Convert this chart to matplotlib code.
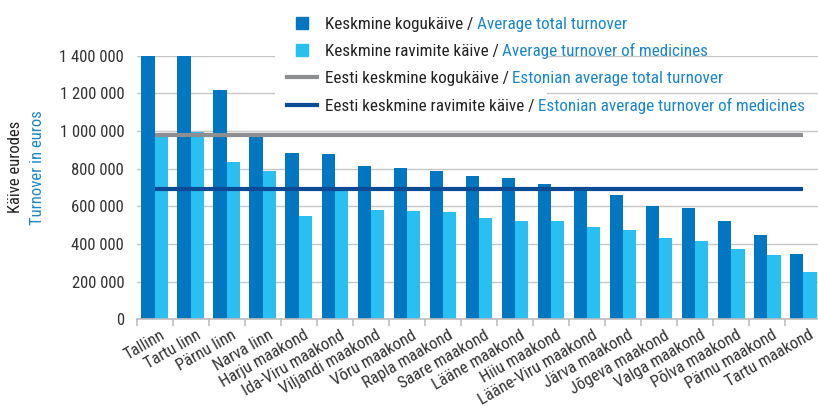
import numpy as np
import matplotlib
matplotlib.use('Agg')
import matplotlib.pyplot as plt
import matplotlib.transforms as mtransforms
from matplotlib import font_manager
from matplotlib.lines import Line2D
from matplotlib.legend_handler import HandlerLine2D
from matplotlib.ticker import FuncFormatter

# Data
regions = ['Tallinn', 'Tartu linn', 'Pärnu linn', 'Narva linn', 'Harju maakond',
           'Ida-Viru maakond', 'Viljandi maakond', 'Võru maakond', 'Rapla maakond',
           'Saare maakond', 'Lääne maakond', 'Hiiu maakond', 'Lääne-Viru maakond',
           'Järva maakond', 'Jõgeva maakond', 'Valga maakond', 'Põlva maakond',
           'Pärnu maakond', 'Tartu maakond']
total_turnover = [1600000, 1450000, 1217000, 970000, 884000, 876000, 814000, 805000,
                  790000, 760000, 748000, 716000, 688000, 660000, 600000, 592000,
                  523000, 449000, 346000]
medicine_turnover = [968000, 994000, 835000, 790000, 548000, 680000, 580000, 575000,
                     569000, 537000, 523000, 520000, 490000, 474000, 433000, 417000,
                     375000, 340000, 253000]
estonia_total_avg = 978000
estonia_medicine_avg = 690000

labels_et = ['Keskmine kogukäive /', 'Keskmine ravimite käive /',
             'Eesti keskmine kogukäive /', 'Eesti keskmine ravimite käive /']
labels_en = ['Average total turnover', 'Average turnover of medicines',
             'Estonian average total turnover', 'Estonian average turnover of medicines']

# Colors
dark_blue = '#0077c0'
light_blue = '#29bff0'
gray_line = '#8d8e92'
navy_line = '#0b4a94'
text_blue = '#1a86cc'
grid_color = '#c6c6c6'

# Font: a narrow family if one is installed
available = {f.name for f in font_manager.fontManager.ttflist}
for fam in ['Roboto Condensed', 'Liberation Sans Narrow', 'Roboto']:
    if fam in available:
        break
plt.rcParams['font.family'] = [fam, 'DejaVu Sans']
plt.rcParams['font.size'] = 12
plt.rcParams['text.color'] = '#222222'

fig = plt.figure(figsize=(8.18, 4.08), dpi=100)
ax = fig.add_axes([0.1671, 0.2174, 0.8369, 0.6463])

x = np.arange(len(regions))
w = 0.37
ax.bar(x - w / 2, total_turnover, width=w, color=dark_blue, zorder=2)
ax.bar(x + w / 2, medicine_turnover, width=w, color=light_blue, zorder=2)
ax.plot([x[0], x[-1]], [estonia_total_avg] * 2, color=gray_line, lw=3, zorder=3,
        solid_capstyle='butt')
ax.plot([x[0], x[-1]], [estonia_medicine_avg] * 2, color=navy_line, lw=3, zorder=3,
        solid_capstyle='butt')

ax.set_xlim(-0.5, len(regions) - 0.5)
ax.set_ylim(0, 1400000)
ax.set_yticks(np.arange(0, 1400001, 200000))
ax.yaxis.set_major_formatter(FuncFormatter(lambda v, p: f'{int(v):,}'.replace(',', ' ')))
ax.grid(axis='y', color=grid_color, lw=1, zorder=0)
ax.set_axisbelow(True)

for s in ['top', 'right', 'left']:
    ax.spines[s].set_visible(False)
ax.spines['bottom'].set_color('#bdbdbd')
ax.spines['bottom'].set_linewidth(1.2)

ax.tick_params(axis='y', length=0, pad=9, labelsize=12, labelcolor='#333333')
ax.set_xticks(x)
ax.set_xticklabels(regions, rotation=30, ha='right', rotation_mode='anchor',
                   fontsize=12, color='#333333')
ax.tick_params(axis='x', which='major', length=0, pad=6)
ax.set_xticks(np.arange(-0.5, len(regions), 1), minor=True)
ax.tick_params(axis='x', which='minor', length=5, color='#bdbdbd', width=1.2)

# nudge the rotated labels a little to the right
shift = mtransforms.ScaledTranslation(5 / 100, 0, fig.dpi_scale_trans)
for lbl in ax.get_xticklabels():
    lbl.set_transform(lbl.get_transform() + shift)

# Y axis title, two languages
fig.text(16 / 818, 0.59, 'Käive eurodes', rotation=90, ha='center', va='center',
         fontsize=12, color='#222222')
fig.text(37 / 818, 0.59, 'Turnover in euros', rotation=90, ha='center', va='center',
         fontsize=12, color=text_blue)


class RightMarker(HandlerLine2D):
    def get_xdata(self, legend, xdescent, ydescent, width, height, fontsize):
        xd, xm = super().get_xdata(legend, xdescent, ydescent, width, height, fontsize)
        return xd, [-xdescent + width - 0.3 * fontsize]


handles = [
    Line2D([], [], marker='s', ls='none', color=dark_blue, markersize=8),
    Line2D([], [], marker='s', ls='none', color=light_blue, markersize=8),
    Line2D([], [], color=gray_line, lw=3),
    Line2D([], [], color=navy_line, lw=3),
]
leg_fs = 12.3
leg = ax.legend(handles, labels_et, loc='upper left', bbox_to_anchor=(266 / 818, 1.011),
                bbox_transform=fig.transFigure, frameon=True, facecolor='white',
                edgecolor='none', framealpha=1, fancybox=False, fontsize=leg_fs,
                handlelength=1.75, handletextpad=0.45, borderpad=0.75, labelspacing=0.72,
                handler_map={handles[0]: RightMarker(), handles[1]: RightMarker()})
leg.set_zorder(5)

# English half of each legend entry in blue, right after the Estonian text
for t, en in zip(leg.get_texts(), labels_en):
    t.set_color('#222222')
    ann = ax.annotate(en, xy=(1, 0), xycoords=t, xytext=(2.5, 0), textcoords='offset points',
                      ha='left', va='bottom', color=text_blue, fontsize=leg_fs,
                      annotation_clip=False)
    ann.set_zorder(6)

plt.savefig('out.png', dpi=100)
